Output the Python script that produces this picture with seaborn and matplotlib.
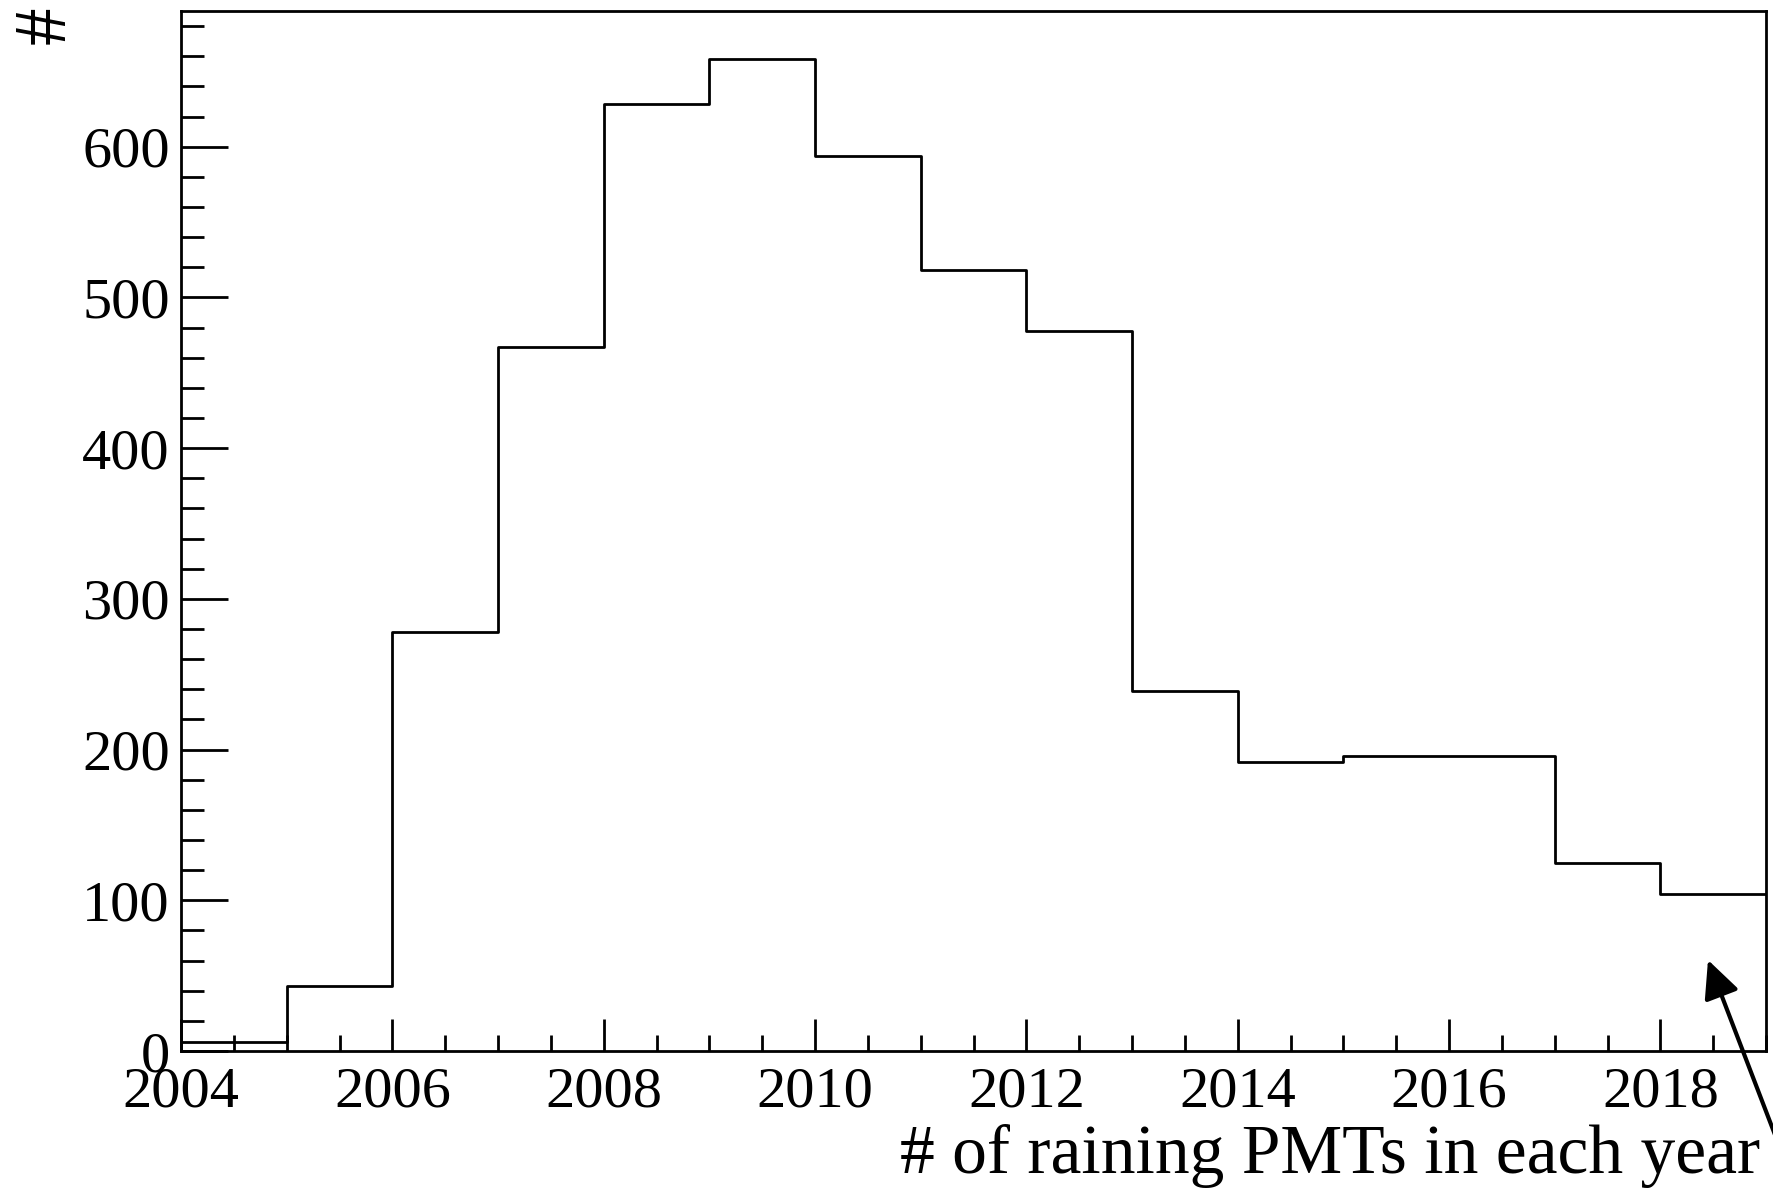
import numpy as np
import pandas as pd
import matplotlib
matplotlib.use("Agg")
import matplotlib.pyplot as plt
from matplotlib.ticker import MultipleLocator
import seaborn as sns

# ---- data ----
years = [2004, 2005, 2006, 2007, 2008, 2009, 2010, 2011, 2012, 2013,
         2014, 2015, 2016, 2017, 2018]
counts = [6, 43, 278, 467, 628, 658, 594, 518, 478, 239,
          192, 196, 196, 125, 104]
x_ticks = [2004, 2006, 2008, 2010, 2012, 2014, 2016, 2018]
y_ticks = [0, 100, 200, 300, 400, 500, 600]
x_label = "# of raining PMTs in each year"
y_label = "#"

df = pd.DataFrame({"year": np.array(years) + 0.5, "count": counts})
edges = list(years) + [years[-1] + 1]

sns.set_theme(style="ticks")
plt.rcParams["font.family"] = ["Liberation Serif", "DejaVu Serif"]
plt.rcParams["mathtext.fontset"] = "stix"
plt.rcParams["text.color"] = "black"
plt.rcParams["axes.labelcolor"] = "black"

fig = plt.figure(figsize=(17.74, 11.95), dpi=100)
W, H = 1774, 1195
left, right, top, bottom = 181, 1766, 11, 1051
ax = fig.add_axes([left / W, 1 - bottom / H, (right - left) / W, (bottom - top) / H])

sns.histplot(data=df, x="year", weights="count", bins=edges, element="step",
             fill=False, color="black", linewidth=2.0, ax=ax)

ax.set_xlim(edges[0], edges[-1])
ax.set_ylim(0, 690)
ax.set_xticks(x_ticks)
ax.set_xticklabels([str(t) for t in x_ticks])
ax.set_yticks(y_ticks)
ax.set_yticklabels([str(t) for t in y_ticks])
ax.xaxis.set_minor_locator(MultipleLocator(0.5))
ax.yaxis.set_minor_locator(MultipleLocator(20))

for s in ax.spines.values():
    s.set_linewidth(2.0)
    s.set_color("black")

ax.tick_params(axis="both", which="both", direction="in", colors="black",
               width=2.0, labelsize=42, top=False, right=False)
ax.tick_params(axis="y", which="major", length=33.5, pad=8)
ax.tick_params(axis="y", which="minor", length=16.8)
ax.tick_params(axis="x", which="major", length=23, pad=11)
ax.tick_params(axis="x", which="minor", length=11.8)

ax.set_xlabel(x_label, fontsize=50, loc="right", color="black")
ax.xaxis.label.set_va("baseline")
ax.xaxis.set_label_coords((1760 - left) / (right - left), -(1173 - bottom) / (bottom - top))
ax.set_ylabel("")

fig.text(47 / W, 1 - 6 / H, y_label, rotation=90, ha="center", va="top",
         fontsize=54, color="black")

ax.annotate("", xy=(1708 / W, 1 - 960 / H), xycoords="figure fraction",
            xytext=(1800 / W, 1 - 1200 / H), textcoords="figure fraction",
            annotation_clip=False,
            arrowprops=dict(arrowstyle="-|>,head_length=1.05,head_width=0.5",
                            mutation_scale=22, lw=3, color="black",
                            shrinkA=0, shrinkB=0))

fig.savefig("out.png", dpi=100, facecolor="white")
